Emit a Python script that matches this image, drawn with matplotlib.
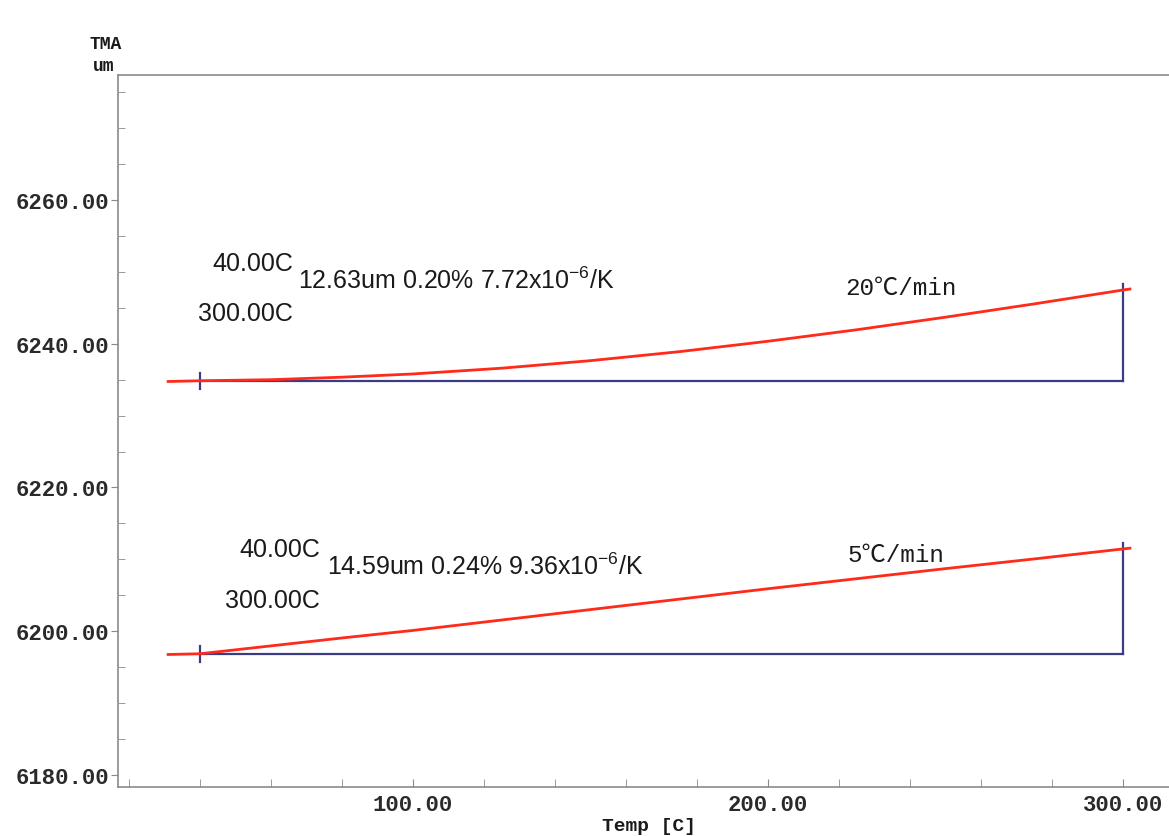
import matplotlib
matplotlib.use("Agg")
import matplotlib.pyplot as plt
from matplotlib.ticker import MultipleLocator, FormatStrFormatter

plt.rcParams['mathtext.default'] = 'regular'

# TMA curves (temp in C, length in um)
temp_20 = [31, 40, 60, 80, 100, 125, 150, 175, 200, 225, 250, 275, 300, 302]
tma_20 = [6234.75, 6234.85, 6235.0, 6235.35, 6235.8, 6236.6, 6237.65, 6238.9, 6240.35,
          6241.95, 6243.7, 6245.55, 6247.48, 6247.62]

temp_5 = [31, 40, 60, 80, 100, 125, 150, 175, 200, 225, 250, 275, 300, 302]
tma_5 = [6196.75, 6196.85, 6197.95, 6199.05, 6200.1, 6201.55, 6203.0, 6204.45, 6205.9,
         6207.3, 6208.7, 6210.05, 6211.44, 6211.55]

# analysis range and results
t_start, t_end = 40.0, 300.0
base_20, end_20 = 6234.85, 6247.48
base_5, end_5 = 6196.85, 6211.44
res_20 = ["40.00C", "12.63um 0.20% 7.72x10$^{-6}$/K", "300.00C", "20℃/min"]
res_5 = ["40.00C", "14.59um 0.24% 9.36x10$^{-6}$/K", "300.00C", "5℃/min"]

red = "#ff2a1a"
navy = "#3b3b86"
grey = "#8a8a8a"
ink = "#1a1a1a"
mono = ["Liberation Mono", "Noto Sans CJK SC"]
sans = ["Liberation Sans", "DejaVu Sans"]

fig = plt.figure(figsize=(11.69, 8.37), dpi=100)
ax = fig.add_axes([0.101, 0.0585, 0.899, 0.8506])

for temp, tma, base, end in [(temp_20, tma_20, base_20, end_20),
                             (temp_5, tma_5, base_5, end_5)]:
    ax.plot([t_start, t_end], [base, base], color=navy, lw=1.6, zorder=2)
    ax.plot([t_end, t_end], [base, end + 0.8], color=navy, lw=1.6, zorder=2)
    ax.plot([t_start, t_start], [base - 1.1, base + 1.1], color=navy, lw=1.6, zorder=2)
    ax.plot(temp, tma, color=red, lw=2.0, zorder=3)

# result texts: (x, y, ha) for start temp, result line, end temp, rate
layout_20 = [(66.2, 6251.3, "right"), (67.6, 6248.9, "left"),
             (66.2, 6244.3, "right"), (221.7, 6247.8, "left")]
layout_5 = [(73.8, 6211.5, "right"), (75.8, 6209.1, "left"),
            (73.8, 6204.4, "right"), (222.5, 6210.7, "left")]
for res, pos in [(res_20, layout_20), (res_5, layout_5)]:
    for i in range(3):
        ax.text(pos[i][0], pos[i][1], res[i], family=sans, fontsize=18,
                ha=pos[i][2], va="center", color=ink)
    ax.text(pos[3][0], pos[3][1], res[3], family=mono, fontsize=17.5,
            ha="left", va="center", color=ink)

ax.set_xlim(16.9, 313.0)
ax.set_ylim(6178.3, 6277.4)

ax.xaxis.set_major_locator(MultipleLocator(100))
ax.xaxis.set_minor_locator(MultipleLocator(20))
ax.yaxis.set_major_locator(MultipleLocator(20))
ax.yaxis.set_minor_locator(MultipleLocator(5))
ax.xaxis.set_major_formatter(FormatStrFormatter("%.2f"))
ax.yaxis.set_major_formatter(FormatStrFormatter("%.2f"))

ax.tick_params(axis="x", which="both", direction="in", length=6, color=grey, pad=5)
ax.tick_params(axis="y", which="major", direction="out", length=5, color=grey, pad=1)
ax.tick_params(axis="y", which="minor", direction="in", length=5, color=grey)
for lab in ax.get_xticklabels() + ax.get_yticklabels():
    lab.set_family(mono)
    lab.set_fontsize(16)
    lab.set_weight("bold")
    lab.set_color("#2a2a2a")

for side in ["left", "top", "bottom"]:
    ax.spines[side].set_color(grey)
    ax.spines[side].set_linewidth(1.2)
ax.spines["right"].set_visible(False)

fig.text(0.555, 0.013, "Temp [C]", family=mono, fontsize=14, ha="center", va="center",
         color=ink, weight="bold")
fig.text(0.09, 0.947, "TMA", family=mono, fontsize=13, ha="center", va="center",
         color=ink, weight="bold")
fig.text(0.089, 0.920, "um", family=mono, fontsize=13, ha="center", va="center",
         color=ink, weight="bold")

fig.savefig("out.png", dpi=100)
